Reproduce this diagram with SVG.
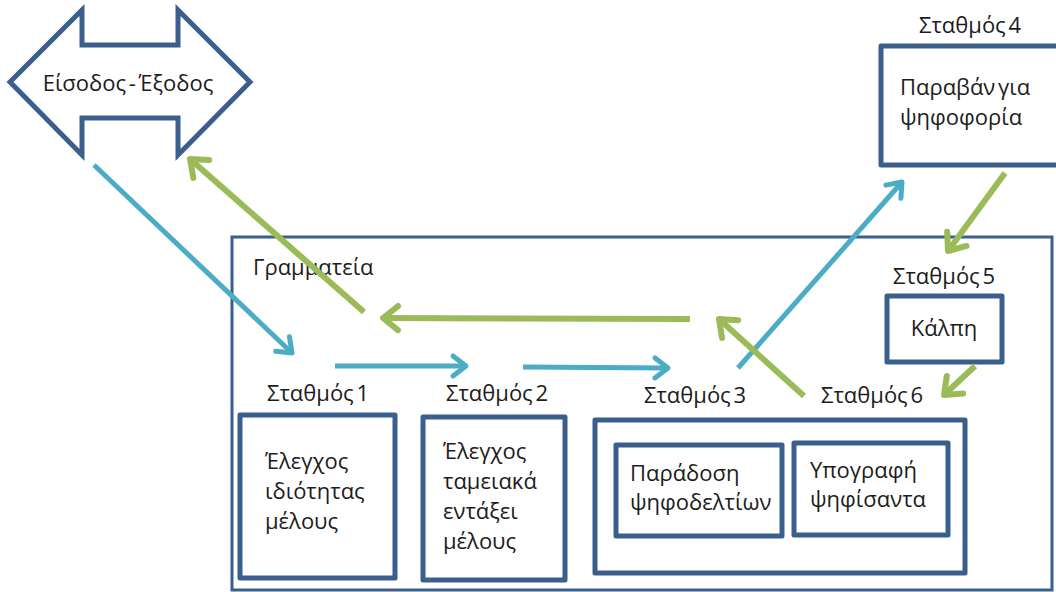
<svg xmlns="http://www.w3.org/2000/svg" width="1056" height="592" viewBox="0 0 1056 592">
<defs>
<style>
.box{fill:#fff;stroke:#3A5F8D;stroke-width:5;stroke-linejoin:round}
.frame{fill:#fff;stroke:#3A5F8D;stroke-width:3}
.t{font-family:"Open Sans","Liberation Sans",Arial,sans-serif;font-size:22px;fill:#1c1c1c;word-spacing:-3px}
.c{text-anchor:middle}
.blue{stroke:#4BACC6;stroke-width:5;fill:none;marker-end:url(#mb)}
.green{stroke:#9BBB59;stroke-width:6;fill:none;marker-end:url(#mg)}
</style>
<marker id="mb" markerUnits="userSpaceOnUse" viewBox="-20 -14 24 28" refX="0" refY="0" markerWidth="24" markerHeight="28" orient="auto" overflow="visible">
<path d="M -13 -10 L 0 0 L -13 10" fill="none" stroke="#4BACC6" stroke-width="5" stroke-linecap="round" stroke-linejoin="round"/>
</marker>
<marker id="mg" markerUnits="userSpaceOnUse" viewBox="-20 -14 24 28" refX="0" refY="0" markerWidth="24" markerHeight="28" orient="auto" overflow="visible">
<path d="M -15 -12 L 0 0 L -15 12" fill="none" stroke="#9BBB59" stroke-width="6" stroke-linecap="round" stroke-linejoin="round"/>
</marker>
</defs>
<rect width="1056" height="592" fill="#fff"/>

<g id="grammateia">
<rect class="frame" x="232" y="237" width="820" height="353"/>
<text class="t" x="253" y="275">Γραμματεία</text>
</g>

<g id="entrance">
<polygon points="10,82 82,10 82,45 178,45 178,10 250,82 178,155 178,118 82,118 82,155" fill="#fff" stroke="#3A5F8D" stroke-width="5" stroke-linejoin="miter"/>
<text class="t c" x="128" y="91">Είσοδος - Έξοδος</text>
</g>

<g id="station4">
<text class="t c" x="970" y="33">Σταθμός 4</text>
<rect class="box" x="881" y="46" width="190" height="119"/>
<text class="t" x="900" y="95">Παραβάν για</text>
<text class="t" x="900" y="125">ψηφοφορία</text>
</g>

<g id="station5">
<text class="t c" x="944" y="284">Σταθμός 5</text>
<rect class="box" x="887" y="296" width="115" height="66"/>
<text class="t c" x="944" y="336">Κάλπη</text>
</g>

<g id="station1">
<text class="t c" x="318" y="401">Σταθμός 1</text>
<rect class="box" x="240" y="415" width="155" height="163"/>
<text class="t" x="265" y="469">Έλεγχος</text>
<text class="t" x="265" y="499">ιδιότητας</text>
<text class="t" x="265" y="529">μέλους</text>
</g>

<g id="station2">
<text class="t c" x="497" y="401">Σταθμός 2</text>
<rect class="box" x="423" y="417" width="142" height="163"/>
<text class="t" x="443" y="459">Έλεγχος</text>
<text class="t" x="443" y="489">ταμειακά</text>
<text class="t" x="443" y="519">εντάξει</text>
<text class="t" x="443" y="549">μέλους</text>
</g>

<g id="station3-6">
<text class="t c" x="695" y="403">Σταθμός 3</text>
<text class="t c" x="872" y="403">Σταθμός 6</text>
<rect class="box" x="595" y="420" width="370" height="153"/>
</g>

<g id="delivery">
<rect class="box" x="616" y="445" width="166" height="91"/>
<text class="t" x="630" y="481">Παράδοση</text>
<text class="t" x="630" y="510">ψηφοδελτίων</text>
</g>

<g id="signature">
<rect class="box" x="794" y="443" width="154" height="92"/>
<text class="t" x="810" y="478">Υπογραφή</text>
<text class="t" x="810" y="507">ψηφίσαντα</text>
</g>

<g id="connectors">
<line class="blue" x1="94" y1="165" x2="292" y2="353"/>
<line class="blue" x1="335" y1="366" x2="466" y2="366"/>
<line class="blue" x1="523" y1="367" x2="668" y2="368"/>
<line class="blue" x1="738" y1="368" x2="902" y2="182"/>
<line class="green" x1="364" y1="312" x2="190" y2="159"/>
<line class="green" x1="690" y1="319" x2="383" y2="318"/>
<line class="green" x1="1005" y1="173" x2="948" y2="251"/>
<line class="green" x1="804" y1="396" x2="719" y2="319"/>
<line class="green" x1="975" y1="366" x2="944" y2="395"/>
</g>
</svg>
